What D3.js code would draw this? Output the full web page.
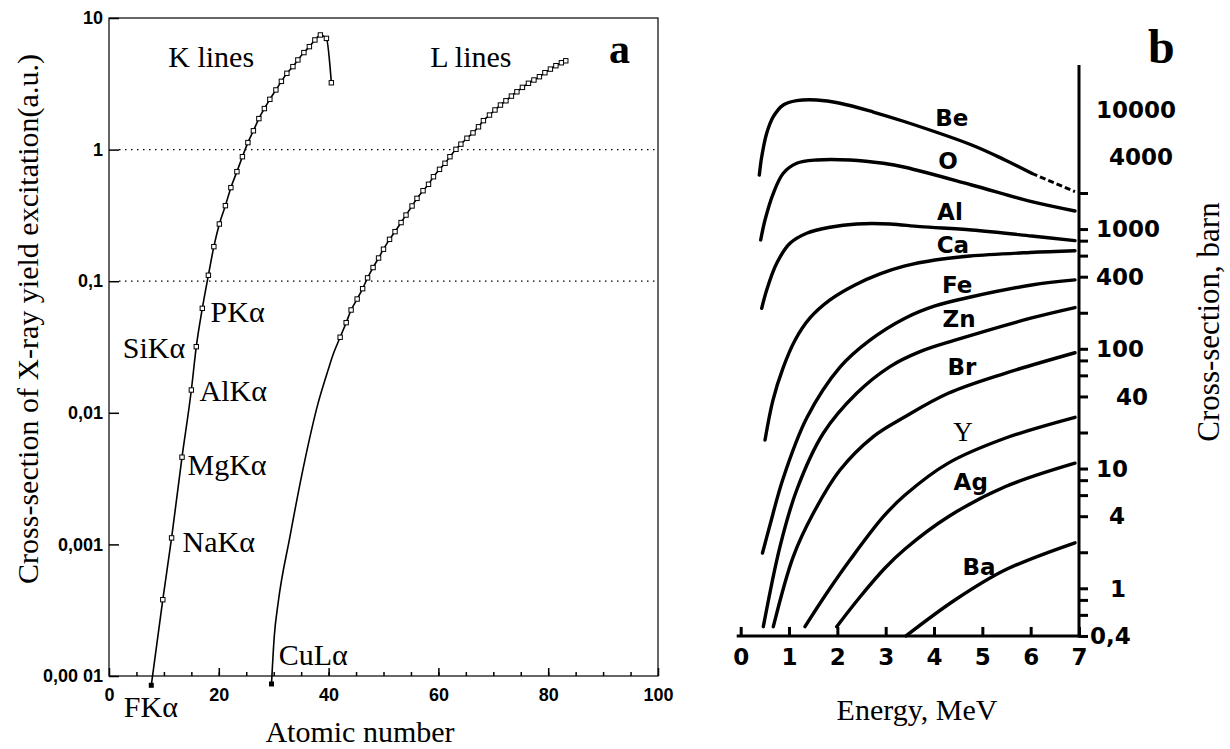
<!DOCTYPE html>
<html>
<head>
<meta charset="utf-8">
<script src="https://cdn.jsdelivr.net/npm/d3@7"></script>
<style>
  body { margin: 0; background: #fff; }
  svg { display: block; }
  .serif { font-family: 'Liberation Serif', 'Times New Roman', serif; }
  .numA { font-family: 'Liberation Sans', Arial, sans-serif; font-weight: bold; font-size: 18px; }
  .numB { font-family: 'DejaVu Sans', sans-serif; font-weight: bold; font-size: 23px; }
</style>
</head>
<body>
<svg id="chart" width="1230" height="749"></svg>
<script>
// ---------- panel a: X-ray yield vs atomic number ----------
const kZ = [7.7, 9.8, 11.4, 13.3, 15.0, 15.9, 17.0, 18.1, 19.1, 20.1, 21.2, 22.2, 23.3, 24.3, 25.3,
            26.3, 27.3, 28.3, 29.3, 30.4, 31.4, 32.4, 33.5, 34.4, 35.5, 36.5, 37.5, 38.5, 39.6, 40.5];
const kV = [8.5e-5, 3.8e-4, 1.12e-3, 4.6e-3, 0.0149, 0.0318, 0.0622, 0.111, 0.183, 0.272, 0.375, 0.514, 0.68, 0.883, 1.13,
            1.39, 1.72, 2.05, 2.41, 2.84, 3.30, 3.80, 4.27, 4.80, 5.46, 6.06, 6.81, 7.43, 7.0, 3.22];

// lower part of the L curve has no markers
const lLowZ = [29.6, 30.1, 30.8, 32.95, 35.3, 38.1, 39.9, 40.9];
const lLowV = [8.7e-5, 1.99e-4, 3.57e-4, 1.14e-3, 3.67e-3, 0.0119, 0.0211, 0.0283];
const lZ = [42.1, 43.2, 44.1, 45.2, 46.2, 47.1, 48.1, 49.1, 50.0, 51.1, 52.1, 53.2, 54.1, 55.2, 56.1, 57.2, 58.2, 59.1,
            60.2, 61.2, 62.1, 63.2, 64.1, 65.2, 66.3, 67.3, 68.2, 69.3, 70.3, 71.3, 72.3, 73.3, 74.3, 75.3, 76.4, 77.4,
            78.4, 79.4, 80.4, 81.4, 82.4, 83.2];
const lV = [0.0375, 0.0484, 0.0604, 0.0732, 0.0877, 0.106, 0.127, 0.150, 0.175, 0.208, 0.238, 0.279, 0.318, 0.373,
            0.426, 0.487, 0.545, 0.622, 0.708, 0.787, 0.883, 1.005, 1.10, 1.22, 1.34, 1.49, 1.66, 1.83, 2.00, 2.18,
            2.35, 2.55, 2.75, 2.97, 3.19, 3.38, 3.58, 3.84, 4.09, 4.34, 4.57, 4.73];

const aTickVals = [1e-4, 1e-3, 0.01, 0.1, 1, 10];
const aTickText = ['0,00 01', '0,001', '0,01', '0,1', '1', '10'];
const aGrid = [0.1, 1];
const aXMajor = [0, 20, 40, 60, 80, 100];

const aLabText = ['K lines', 'L lines', 'PKα', 'SiKα', 'AlKα', 'MgKα', 'NaKα', 'FKα', 'CuLα'];
const aLabZ = [10.8, 58.5, 18.5, 2.5, 16.5, 14.3, 13.4, 2.7, 30.9];
const aLabV = [4.25, 4.25, 0.049, 0.026, 0.0123, 0.00337, 0.000875, 0.0000488, 0.000121];

// ---------- panel b: cross-section vs proton energy ----------
const beE = [0.385, 0.435, 0.538, 0.675, 0.881, 1.159, 1.573, 2.055, 2.744, 3.400, 4.780, 5.469, 6.021];
const beS = [2827, 4020, 6310, 8670, 10860, 11800, 11960, 11230, 9490, 7870, 5035, 3775, 2923];
const beTailE = [6.021, 6.917];
const beTailS = [2923, 2051];
const oE = [0.414, 0.503, 0.675, 0.881, 1.159, 1.573, 2.261, 2.951, 3.400, 4.780, 6.021, 6.917];
const oS = [811, 1191, 1990, 2923, 3540, 3775, 3775, 3540, 3280, 2333, 1692, 1415];
const alE = [0.435, 0.538, 0.745, 1.020, 1.366, 1.848, 2.400, 3.089, 3.710, 4.780, 6.021, 6.917];
const alS = [218, 310, 518, 760, 922, 1035, 1103, 1103, 1047, 982, 875, 800];
const caE = [0.503, 0.668, 0.875, 1.124, 1.434, 1.848, 2.365, 2.882, 3.400, 4.020, 4.744, 5.986, 6.917];
const caS = [17.3, 37.3, 69.0, 118, 181, 256, 341, 422, 492, 552, 596, 637, 659];
const feE = [0.451, 0.606, 0.881, 1.366, 2.055, 2.675, 3.400, 4.020, 4.780, 6.021, 6.917];
const feS = [1.97, 3.38, 8.34, 26.4, 70.2, 118, 180, 228, 272, 341, 376];
const znE = [0.468, 0.813, 1.159, 1.709, 2.400, 3.089, 3.710, 4.434, 6.021, 6.917];
const znS = [0.478, 2.23, 6.62, 19.7, 42.5, 71.0, 94.6, 118, 181, 221];
const brE = [0.675, 1.088, 1.502, 2.055, 2.744, 3.400, 4.295, 5.469, 6.917];
const brS = [0.478, 1.84, 4.23, 9.72, 18.5, 27.1, 42.5, 62.4, 92.7];
const yttE = [1.330, 1.779, 2.261, 2.951, 3.400, 4.295, 5.469, 6.917];
const yttS = [0.478, 0.908, 1.72, 3.96, 6.01, 11.1, 17.9, 26.8];
const agE = [1.986, 2.468, 2.986, 3.400, 4.295, 5.469, 6.917];
const agS = [0.478, 0.846, 1.477, 2.13, 3.96, 7.05, 11.1];
const baE = [3.42, 4.433, 5.469, 6.917];
const baS = [0.4, 0.798, 1.42, 2.40];

const bNames = ['Be', 'O', 'Al', 'Ca', 'Fe', 'Zn', 'Br', 'Y', 'Ag', 'Ba'];
const bLabE = [4.37, 4.29, 4.33, 4.39, 4.48, 4.52, 4.58, 4.60, 4.76, 4.93];
const bLabS = [8460, 3700, 1387, 738, 342, 177, 70.5, 20.6, 7.7, 1.51];

const bXTicks = [0, 1, 2, 3, 4, 5, 6, 7];
const bYMinor = [0.4, 0.6, 0.8, 1, 2, 4, 6, 8, 10, 20, 40, 60, 80, 100, 200, 400, 600, 800, 1000, 2000];
const bYLabVals = [10000, 4000, 1000, 400, 100, 40, 10, 4, 1, 0.4];
const bYLabText = ['10000', '4000', '1000', '400', '100', '40', '10', '4', '1', '0,4'];

const zip = (xs, ys) => xs.map((x, i) => [x, ys[i]]);

const svg = d3.select('#chart');

// ================= panel a =================
const xA = d3.scaleLinear().domain([0, 100]).range([109, 658]);
const yA = d3.scaleLog().domain([1e-4, 10]).range([676, 18]);

svg.append('rect')
   .attr('x', xA(0)).attr('y', yA(10))
   .attr('width', xA(100) - xA(0)).attr('height', yA(1e-4) - yA(10))
   .attr('fill', 'none').attr('stroke', '#000').attr('stroke-width', 1.2);

svg.selectAll('line.grid')
   .data(aGrid)
   .enter()
   .append('line')
   .attr('class', 'grid')
   .attr('x1', xA(0) + 10).attr('x2', xA(100))
   .attr('y1', d => yA(d)).attr('y2', d => yA(d))
   .attr('stroke', '#000').attr('stroke-width', 1.3)
   .attr('stroke-dasharray', '1.5,4.5');

const aMinor = svg.append('g')
   .attr('transform', 'translate(0,' + yA(1e-4) + ')')
   .call(d3.axisBottom(xA).tickValues(d3.range(5, 100, 5)).tickSize(-4).tickFormat(''));
aMinor.select('.domain').remove();

const aMajor = svg.append('g')
   .attr('transform', 'translate(0,' + yA(1e-4) + ')')
   .call(d3.axisBottom(xA).tickValues(aXMajor).tickSize(-8).tickPadding(12));
aMajor.select('.domain').remove();
aMajor.selectAll('text').attr('class', 'numA').attr('fill', '#000');

const aLeft = svg.append('g')
   .attr('transform', 'translate(' + xA(0) + ',0)')
   .call(d3.axisLeft(yA).tickValues(aTickVals).tickSize(-10).tickPadding(6)
          .tickFormat((d, i) => aTickText[i]));
aLeft.select('.domain').remove();
aLeft.selectAll('text').attr('class', 'numA').attr('fill', '#000');
svg.selectAll('.tick line').attr('stroke', '#000').attr('stroke-width', 1.5);

const lineA = d3.line()
   .x(d => xA(d[0]))
   .y(d => yA(d[1]))
   .curve(d3.curveMonotoneX);

const kPts = zip(kZ, kV);
const lPts = zip(lLowZ, lLowV).concat(zip(lZ, lV));

[kPts, lPts].forEach(pts => {
  svg.append('path')
     .attr('d', lineA(pts))
     .attr('fill', 'none')
     .attr('stroke', '#000')
     .attr('stroke-width', 1.6);
});

// open square markers, the two end points filled
const markers = kPts.slice(1).concat(zip(lZ, lV));
svg.selectAll('rect.mk')
   .data(markers)
   .enter()
   .append('rect')
   .attr('class', 'mk')
   .attr('x', d => xA(d[0]) - 2.2).attr('y', d => yA(d[1]) - 2.2)
   .attr('width', 4.4).attr('height', 4.4)
   .attr('fill', '#fff').attr('stroke', '#000').attr('stroke-width', 1);

svg.selectAll('rect.mkf')
   .data([kPts[0], [lLowZ[0], lLowV[0]]])
   .enter()
   .append('rect')
   .attr('class', 'mkf')
   .attr('x', d => xA(d[0]) - 2.5).attr('y', d => yA(d[1]) - 2.5)
   .attr('width', 5).attr('height', 5)
   .attr('fill', '#000');

svg.selectAll('text.annoA')
   .data(aLabText)
   .enter()
   .append('text')
   .attr('class', 'annoA serif')
   .attr('x', (d, i) => xA(aLabZ[i]))
   .attr('y', (d, i) => yA(aLabV[i]))
   .attr('font-size', 30)
   .text(d => d);

svg.append('text')
   .attr('class', 'serif')
   .attr('x', 609).attr('y', 63)
   .attr('font-size', 42).attr('font-weight', 'bold')
   .text('a');

svg.append('text')
   .attr('class', 'serif')
   .attr('transform', 'translate(38,319) rotate(-90)')
   .attr('text-anchor', 'middle')
   .attr('font-size', 30)
   .text('Cross-section of X-ray yield excitation(a.u.)');

svg.append('text')
   .attr('class', 'serif')
   .attr('x', 360).attr('y', 742)
   .attr('text-anchor', 'middle')
   .attr('font-size', 30)
   .text('Atomic number');

// ================= panel b =================
const xB = d3.scaleLinear().domain([0, 7]).range([740.7, 1079]);
const yB = d3.scaleLog().domain([1, 10000]).range([588.3, 109.3]);
const bBottom = yB(0.4);

svg.append('line')
   .attr('x1', xB(0) - 4).attr('x2', xB(7))
   .attr('y1', bBottom).attr('y2', bBottom)
   .attr('stroke', '#000').attr('stroke-width', 3);
svg.append('line')
   .attr('x1', xB(7)).attr('x2', xB(7))
   .attr('y1', bBottom + 1.5).attr('y2', 65)
   .attr('stroke', '#000').attr('stroke-width', 3);

const bX = svg.append('g')
   .attr('transform', 'translate(0,' + bBottom + ')')
   .call(d3.axisBottom(xB).tickValues(bXTicks).tickSize(-9).tickPadding(13).tickFormat(d3.format('d')));
bX.select('.domain').remove();
bX.selectAll('line').attr('stroke', '#000').attr('stroke-width', 3);
bX.selectAll('text').attr('class', 'numB').attr('fill', '#000');

const bY = svg.append('g')
   .attr('transform', 'translate(' + xB(7) + ',0)')
   .call(d3.axisRight(yB).tickValues(bYMinor).tickSize(9).tickFormat(''));
bY.select('.domain').remove();
bY.selectAll('line').attr('stroke', '#000').attr('stroke-width', 3);

// hand lettered labels sit a little off the left edge for some values
const labShift = { '4000': 13, '40': 20, '4': 13, '1': 14, '0,4': -6 };
svg.selectAll('text.bylab')
   .data(bYLabText)
   .enter()
   .append('text')
   .attr('class', 'bylab numB')
   .attr('x', d => xB(7) + 17 + (labShift[d] || 0))
   .attr('y', (d, i) => yB(bYLabVals[i]))
   .attr('dy', '0.36em')
   .text(d => d);

const lineB = d3.line()
   .x(d => xB(d[0]))
   .y(d => yB(d[1]))
   .curve(d3.curveCatmullRom.alpha(0.5));

const bCurves = [
  zip(beE, beS), zip(oE, oS), zip(alE, alS), zip(caE, caS), zip(feE, feS),
  zip(znE, znS), zip(brE, brS), zip(yttE, yttS), zip(agE, agS), zip(baE, baS)
];

svg.selectAll('path.bcurve')
   .data(bCurves)
   .enter()
   .append('path')
   .attr('class', 'bcurve')
   .attr('d', d => lineB(d))
   .attr('fill', 'none')
   .attr('stroke', '#000')
   .attr('stroke-width', 3.4)
   .attr('stroke-linecap', 'round');

svg.append('path')
   .attr('d', lineB(zip(beTailE, beTailS)))
   .attr('fill', 'none')
   .attr('stroke', '#000')
   .attr('stroke-width', 3)
   .attr('stroke-dasharray', '6,3');

svg.selectAll('text.blab')
   .data(bNames)
   .enter()
   .append('text')
   .attr('class', d => d === 'Y' ? 'blab serif' : 'blab numB')
   .attr('x', (d, i) => xB(bLabE[i]))
   .attr('y', (d, i) => yB(bLabS[i]))
   .attr('dy', '0.36em')
   .attr('text-anchor', 'middle')
   .attr('font-size', d => d === 'Y' ? 27 : 22)
   .text(d => d);

svg.append('text')
   .attr('class', 'serif')
   .attr('x', 1148).attr('y', 63)
   .attr('font-size', 48).attr('font-weight', 'bold')
   .text('b');

svg.append('text')
   .attr('class', 'serif')
   .attr('transform', 'translate(1219,322) rotate(-90)')
   .attr('text-anchor', 'middle')
   .attr('font-size', 31)
   .text('Cross-section, barn');

svg.append('text')
   .attr('class', 'serif')
   .attr('x', 917).attr('y', 720)
   .attr('text-anchor', 'middle')
   .attr('font-size', 30)
   .text('Energy, MeV');
</script>
</body>
</html>
